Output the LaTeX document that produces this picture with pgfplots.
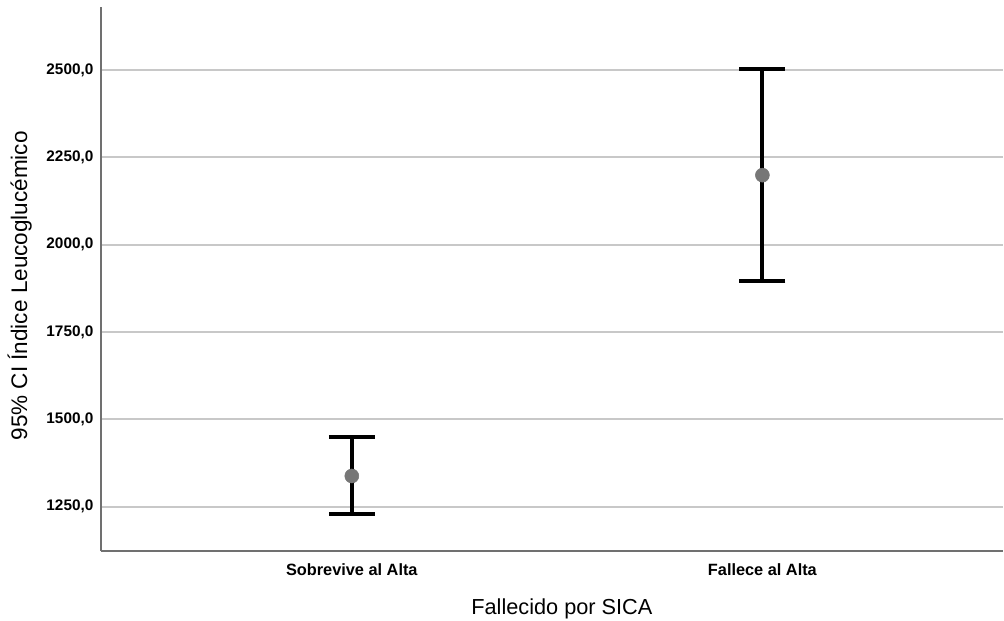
\documentclass[border=0pt]{standalone}
\usepackage{fontspec}
\setmainfont{Liberation Sans}
\usepackage{pgfplots}
\pgfplotsset{compat=1.18}
\definecolor{gridc}{HTML}{C8C8C8}
\definecolor{axc}{HTML}{707070}
\definecolor{ptc}{HTML}{777777}
\begin{document}
\begin{tikzpicture}
\begin{axis}[
  name=ax,
  scale only axis,
  width=677bp, height=408bp,
  xmin=-0.611, xmax=1.586,
  ymin=1123, ymax=2679,
  axis x line=bottom, axis y line=left,
  axis line style={-, axc, line width=1.5bp},
  major tick length=0pt,
  xtick={0,1},
  xticklabels={Sobrevive al Alta, Fallece al Alta},
  ytick={1250,1500,1750,2000,2250,2500},
  ymajorgrids,
  grid style={gridc, line width=1.5bp},
  /pgf/number format/.cd, fixed, fixed zerofill, precision=1, use comma, 1000 sep={}, assume math mode=true,
  /pgfplots/.cd,
  yticklabel style={font=\bfseries\fontsize{11.5bp}{13bp}\selectfont, anchor=east, inner sep=0pt, xshift=-5.5bp},
  xticklabel style={font=\bfseries\fontsize{12.25bp}{14bp}\selectfont, anchor=base, inner sep=0pt, yshift=-18.5bp},
  xlabel={Fallecido por SICA},
  ylabel={95\% CI Índice Leucoglucémico},
  xlabel style={font=\fontsize{16.3bp}{18bp}\selectfont, at={(axis description cs:0.511,-0.1164)}, anchor=base, inner sep=0pt},
  ylabel style={font=\fontsize{16.9bp}{18bp}\selectfont, at={(axis description cs:-0.0818,0.488)}, anchor=base, rotate=0, inner sep=0pt},
]
\addplot[only marks, mark=*, mark size=5.25bp, mark options={fill=ptc, draw=ptc},
  error bars/.cd, y dir=both, y explicit,
  error bar style={line width=3bp, black},
  error mark options={rotate=90, line width=3bp, mark size=17.25bp, black}]
coordinates {
  (0,1338) += (0,111) -= (0,110)
  (1,2199) += (0,303) -= (0,302)
};
\end{axis}
\path ([shift={(-75.75bp,-52bp)}]ax.south west) rectangle ([shift={(0,5.6bp)}]ax.north east);
\end{tikzpicture}
\end{document}
